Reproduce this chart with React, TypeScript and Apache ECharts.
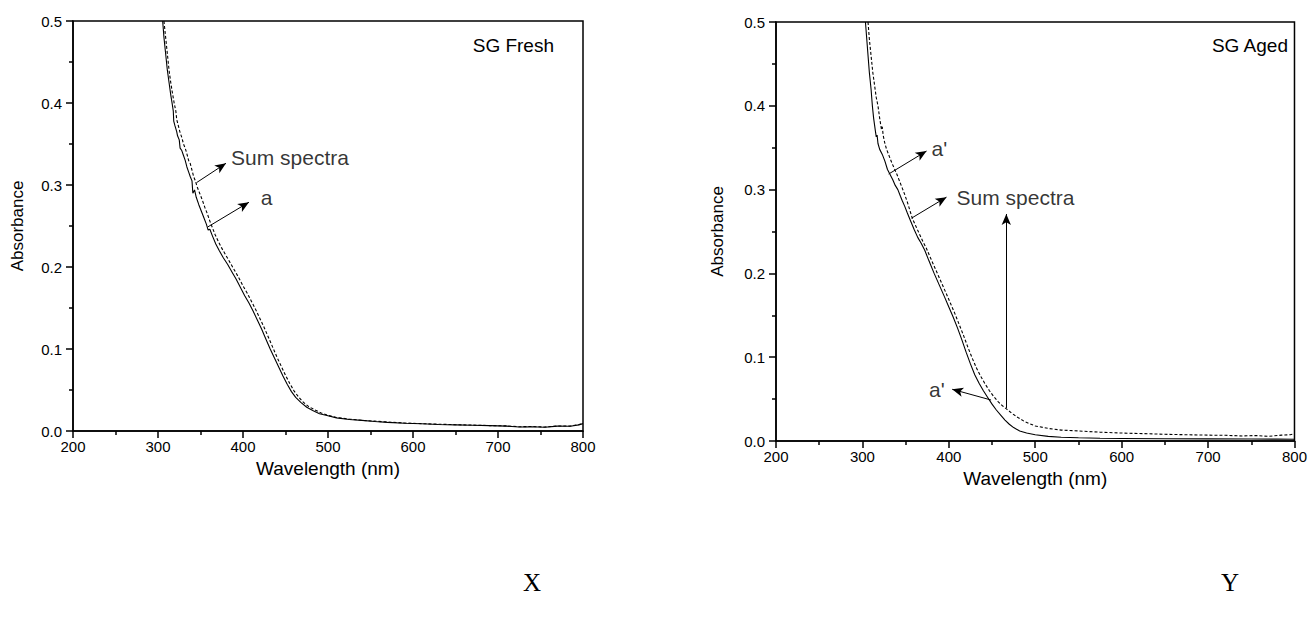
import React, { useEffect, useRef } from "react";
import * as echarts from "echarts";

// ---- Data: [wavelength (nm), absorbance] ----
const FRESH_A: [number, number][] = [
  [305.5, 0.5], [307, 0.48], [309, 0.46], [311, 0.44], [313, 0.425], [315, 0.41], [317, 0.397], [318, 0.39],
  [318.5, 0.378], [320, 0.372], [322, 0.365], [323, 0.36], [325, 0.355], [326, 0.345], [328, 0.342], [330, 0.336],
  [332, 0.33], [334, 0.322], [336, 0.316], [338, 0.31], [340, 0.305], [341, 0.29], [343, 0.294], [345, 0.285],
  [348, 0.276], [351, 0.268], [354, 0.26], [357, 0.252], [359, 0.245], [361, 0.246], [364, 0.238], [368, 0.228],
  [372, 0.22], [377, 0.211], [382, 0.203], [387, 0.194], [392, 0.185], [397, 0.175], [402, 0.165], [407, 0.156],
  [412, 0.146], [417, 0.135], [422, 0.124], [427, 0.112], [432, 0.1], [437, 0.089], [442, 0.078], [447, 0.067],
  [452, 0.057], [457, 0.048], [462, 0.041], [468, 0.035], [475, 0.029], [482, 0.025], [490, 0.021], [500, 0.0185],
  [510, 0.016], [525, 0.014], [540, 0.013], [555, 0.0115], [570, 0.0105], [590, 0.0095], [610, 0.0088], [630, 0.008],
  [650, 0.0075], [670, 0.007], [690, 0.0065], [710, 0.006], [725, 0.0048], [740, 0.0052], [755, 0.0045], [770, 0.006],
  [785, 0.0058], [795, 0.0075], [800, 0.009],
];

const FRESH_SUM: [number, number][] = [
  [307, 0.5], [309, 0.48], [311, 0.46], [313, 0.44], [315, 0.425], [317, 0.412], [319, 0.4], [321, 0.39],
  [322, 0.38], [324, 0.372], [326, 0.364], [328, 0.358], [330, 0.35], [332, 0.345], [334, 0.338], [336, 0.33],
  [338, 0.326], [340, 0.318], [342, 0.31], [344, 0.305], [346, 0.298], [349, 0.29], [352, 0.282], [355, 0.273],
  [358, 0.265], [361, 0.256], [364, 0.248], [367, 0.24], [371, 0.231], [375, 0.223], [380, 0.214], [385, 0.205],
  [390, 0.196], [395, 0.187], [400, 0.177], [405, 0.168], [410, 0.158], [415, 0.148], [420, 0.137], [425, 0.126],
  [430, 0.114], [435, 0.102], [440, 0.09], [445, 0.079], [450, 0.068], [455, 0.058], [460, 0.049], [465, 0.042],
  [470, 0.036], [477, 0.03], [484, 0.026], [492, 0.022], [500, 0.019], [510, 0.0165], [525, 0.0145], [540, 0.013],
  [555, 0.012], [570, 0.011], [590, 0.0098], [610, 0.009], [630, 0.0083], [650, 0.0077], [670, 0.0072], [690, 0.0066],
  [710, 0.0062], [725, 0.0052], [740, 0.0055], [755, 0.0048], [770, 0.0062], [785, 0.006], [795, 0.0078], [800, 0.009],
];

const AGED_A: [number, number][] = [
  [303.5, 0.5], [305, 0.48], [306.5, 0.46], [308, 0.44], [310, 0.42], [311.5, 0.4], [313, 0.385], [315, 0.37],
  [316, 0.363], [317, 0.365], [318, 0.355], [320, 0.348], [323, 0.342], [326, 0.334], [329, 0.324], [332, 0.318],
  [335, 0.312], [338, 0.305], [341, 0.3], [344, 0.292], [346, 0.287], [349, 0.28], [352, 0.272], [356, 0.262],
  [360, 0.252], [364, 0.243], [368, 0.236], [372, 0.228], [377, 0.215], [383, 0.2], [389, 0.186], [395, 0.172],
  [400, 0.16], [405, 0.148], [410, 0.135], [415, 0.121], [420, 0.106], [425, 0.092], [430, 0.079], [435, 0.069],
  [440, 0.06], [445, 0.052], [450, 0.044], [455, 0.037], [460, 0.031], [465, 0.025], [470, 0.02], [475, 0.016],
  [482, 0.012], [490, 0.0095], [500, 0.0075], [515, 0.0055], [530, 0.0045], [550, 0.0038], [575, 0.0032],
  [600, 0.003], [650, 0.0027], [700, 0.0025], [750, 0.0023], [780, 0.0022], [800, 0.002],
];

const AGED_SUM: [number, number][] = [
  [306.5, 0.5], [308, 0.48], [310, 0.46], [312, 0.44], [314, 0.425], [316, 0.41], [318, 0.4], [320, 0.385],
  [322, 0.372], [323, 0.375], [324, 0.365], [326, 0.355], [328, 0.348], [331, 0.34], [334, 0.332], [337, 0.325],
  [340, 0.318], [343, 0.31], [346, 0.302], [349, 0.294], [352, 0.285], [355, 0.275], [358, 0.265], [362, 0.256],
  [366, 0.247], [370, 0.238], [374, 0.23], [379, 0.218], [385, 0.204], [391, 0.19], [397, 0.176], [402, 0.164],
  [407, 0.152], [412, 0.139], [417, 0.126], [422, 0.112], [427, 0.099], [432, 0.087], [437, 0.077], [442, 0.068],
  [447, 0.06], [452, 0.053], [457, 0.047], [462, 0.042], [467, 0.038], [473, 0.033], [480, 0.028], [488, 0.023],
  [500, 0.018], [515, 0.015], [530, 0.013], [550, 0.012], [575, 0.0105], [600, 0.0095], [625, 0.0088], [650, 0.008],
  [675, 0.0075], [700, 0.007], [720, 0.0068], [740, 0.006], [755, 0.0065], [770, 0.0055], [785, 0.007], [795, 0.0075],
  [800, 0.0085],
];

// Annotation arrows [from, to] in data coordinates
const FRESH_ARROWS: [[number, number], [number, number]][] = [
  [[345.5, 0.303], [380, 0.3265]],
  [[358.8, 0.249], [407, 0.279]],
];
const FRESH_LABELS: { text: string; at: [number, number] }[] = [
  { text: "Sum spectra", at: [386, 0.333] },
  { text: "a", at: [421, 0.285] },
];
const AGED_ARROWS: [[number, number], [number, number]][] = [
  [[330.4, 0.3186], [374.2, 0.346]],
  [[357, 0.266], [397.3, 0.291]],
  [[466.5, 0.0394], [466.5, 0.2709]],
  [[448.9, 0.0489], [403.9, 0.0617]],
];
const AGED_LABELS: { text: string; at: [number, number] }[] = [
  { text: "a'", at: [380, 0.3496] },
  { text: "Sum spectra", at: [409, 0.291] },
  { text: "a'", at: [377, 0.0609] },
];

const PANEL_TITLES = ["SG Fresh", "SG Aged"];
const PANEL_LETTERS = ["X", "Y"];
const X_NAME = "Wavelength (nm)";
const Y_NAME = "Absorbance";

const FONT = "Arial, 'Liberation Sans', Helvetica, sans-serif";

export default function App() {
  const ref = useRef<HTMLDivElement>(null);

  useEffect(() => {
    if (!ref.current) return;
    const chart = echarts.init(ref.current, null, { renderer: "svg" });

    const grids = [
      { left: 73, top: 21, width: 510, height: 410 },
      { left: 776, top: 22, width: 520, height: 419 },
    ];
    const yNameGaps = [47, 50];

    const xAxis = grids.map((_, i) => ({
      type: "value" as const,
      gridIndex: i,
      min: 200,
      max: 800,
      interval: 100,
      name: X_NAME,
      nameLocation: "middle" as const,
      nameGap: 28,
      nameTextStyle: { fontFamily: FONT, fontSize: 19, color: "#000" },
      axisLine: { show: true, onZero: false, lineStyle: { color: "#000", width: 1.5 } },
      axisTick: { show: true, inside: false, length: 7, lineStyle: { color: "#000", width: 1.5 } },
      minorTick: { show: true, splitNumber: 2, length: 4, lineStyle: { color: "#000", width: 1.5 } },
      axisLabel: { fontFamily: FONT, fontSize: 15, color: "#000", margin: 8 },
      splitLine: { show: false },
    }));

    const yAxis = grids.map((_, i) => ({
      type: "value" as const,
      gridIndex: i,
      min: 0,
      max: 0.5,
      interval: 0.1,
      name: Y_NAME,
      nameLocation: "middle" as const,
      nameGap: yNameGaps[i],
      nameTextStyle: { fontFamily: FONT, fontSize: 17, color: "#000" },
      axisLine: { show: true, onZero: false, lineStyle: { color: "#000", width: 1.5 } },
      axisTick: { show: true, inside: false, length: 7, lineStyle: { color: "#000", width: 1.5 } },
      minorTick: { show: true, splitNumber: 2, length: 4, lineStyle: { color: "#000", width: 1.5 } },
      axisLabel: {
        fontFamily: FONT,
        fontSize: 15,
        color: "#000",
        margin: 11,
        formatter: (v: number) => v.toFixed(1),
      },
      splitLine: { show: false },
    }));

    const arrowSeries = (i: number, arrows: typeof FRESH_ARROWS, labels: typeof FRESH_LABELS) => ({
      type: "scatter" as const,
      xAxisIndex: i,
      yAxisIndex: i,
      symbolSize: 0,
      silent: true,
      data: labels.map((l) => ({ value: l.at, name: l.text })),
      label: {
        show: true,
        position: "right" as const,
        distance: 0,
        formatter: (p: any) => p.name,
        fontFamily: FONT,
        fontSize: 21,
        color: "#000",
      },
      markLine: {
        silent: true,
        symbol: ["none", "arrow"],
        symbolSize: [7, 11],
        label: { show: false },
        lineStyle: { color: "#000", width: 1, type: "solid" as const },
        data: arrows.map(([a, b]) => [{ coord: a }, { coord: b }]),
      },
    });

    const lineSeries = (i: number, data: [number, number][], dashed: boolean) => ({
      type: "line" as const,
      xAxisIndex: i,
      yAxisIndex: i,
      data,
      showSymbol: false,
      symbol: "none",
      clip: true,
      lineStyle: {
        color: "#000",
        width: 1.1,
        type: dashed ? ([3, 2] as number[]) : ("solid" as const),
      },
    });

    chart.setOption({
      animation: false,
      backgroundColor: "#fff",
      grid: grids.map((g) => ({ ...g, show: true, borderColor: "#000", borderWidth: 1.5, backgroundColor: "transparent" })),
      xAxis,
      yAxis,
      series: [
        lineSeries(0, FRESH_A, false),
        lineSeries(0, FRESH_SUM, true),
        lineSeries(1, AGED_A, false),
        lineSeries(1, AGED_SUM, true),
        arrowSeries(0, FRESH_ARROWS, FRESH_LABELS),
        arrowSeries(1, AGED_ARROWS, AGED_LABELS),
      ],
      graphic: [
        {
          type: "text",
          right: 1310 - 554,
          top: 36,
          style: { text: PANEL_TITLES[0], fontFamily: FONT, fontSize: 19, fill: "#000" },
        },
        {
          type: "text",
          right: 1310 - 1289,
          top: 36,
          style: { text: PANEL_TITLES[1], fontFamily: FONT, fontSize: 19, fill: "#000" },
        },
        {
          type: "text",
          left: 523,
          top: 570,
          style: { text: PANEL_LETTERS[0], fontFamily: "'Liberation Serif', 'Times New Roman', serif", fontSize: 25, fill: "#000" },
        },
        {
          type: "text",
          left: 1221,
          top: 570,
          style: { text: PANEL_LETTERS[1], fontFamily: "'Liberation Serif', 'Times New Roman', serif", fontSize: 25, fill: "#000" },
        },
      ],
    });

    return () => chart.dispose();
  }, []);

  return (
    <div
      ref={ref}
      style={{ position: "fixed", left: 0, top: 0, width: 1310, height: 633, background: "#fff" }}
    />
  );
}
